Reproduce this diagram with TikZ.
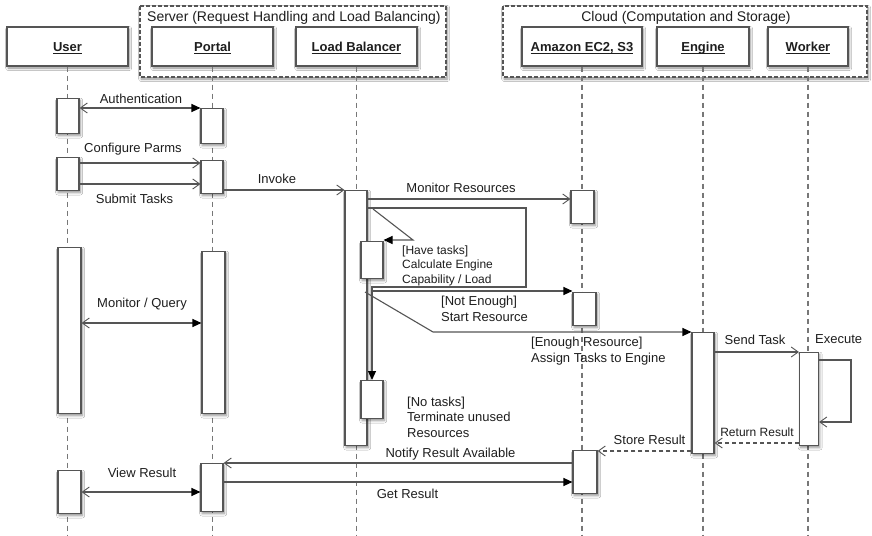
\documentclass[tikz,border=0pt]{standalone}
\usepackage{fontspec}
\setmainfont{Liberation Sans}
\usetikzlibrary{arrows.meta,shadows.blur}

\definecolor{linegray}{HTML}{555555}
\definecolor{lifegray}{HTML}{777777}
\definecolor{inkgray}{HTML}{1E1E1E}

% underlined participant name, rule at a fixed distance from the baseline
\newcommand{\lifename}[1]{\underline{\smash{#1}}}

\tikzset{
  softshadow/.style={blur shadow={shadow xshift=1.2pt, shadow yshift=-2pt,
      shadow blur steps=6, shadow blur radius=2.5pt, shadow opacity=45}},
  headbox/.style={draw=linegray, line width=1.1pt, fill=white, softshadow,
      minimum height=39, inner sep=0, text=inkgray, text height=11, text depth=0,
      font=\fontsize{13}{15}\selectfont\bfseries},
  groupbox/.style={draw=linegray, line width=1.1pt, dash pattern=on 4pt off 2pt,
      fill=white, softshadow},
  actbox/.style={draw=linegray, line width=1.1pt, fill=white, softshadow,
      minimum width=22, inner sep=0, anchor=north},
  lifeline/.style={draw=lifegray, line width=1.1pt, dash pattern=on 5pt off 4pt},
  msgline/.style={draw=linegray, line width=1.1pt},
  replyline/.style={draw=linegray, line width=1.1pt, dash pattern=on 4pt off 3pt},
  openhead/.style={-{Straight Barb[length=7pt,width=10pt,line width=0.9pt]}},
  filledhead/.style={-{Triangle[length=9pt,width=8pt,color=black]}},
  bothheads/.style={{Straight Barb[length=7pt,width=10pt,line width=0.9pt]}-{Triangle[length=9pt,width=8pt,color=black]}},
  lbl/.style={inner sep=0, text=inkgray, font=\fontsize{13}{15.5}\selectfont},
  smalllbl/.style={inner sep=0, text=inkgray, font=\fontsize{12}{14.5}\selectfont},
  grouplbl/.style={inner sep=0, text=inkgray, font=\fontsize{14}{16}\selectfont},
}

\begin{document}
\begin{tikzpicture}[x=1pt, y=-1pt]
\useasboundingbox[fill=white] (0,0) rectangle (872,535);

% ---- group frames ----
\draw[groupbox] (140,6) rectangle (446,77);
\draw[groupbox] (503,6) rectangle (867,77);
\node[grouplbl, anchor=base west] (srvtitle) at (147,22) {Server (Request Handling and Load Balancing)};
\node[grouplbl, anchor=base] (cldtitle) at (686,22) {Cloud (Computation and Storage)};

% ---- participants ----
\node[headbox, minimum width=121] (user)   at (67.5,46.5)  {\lifename{User}};
\node[headbox, minimum width=121] (portal) at (212.5,46.5) {\lifename{Portal}};
\node[headbox, minimum width=121] (lb)     at (356.5,46.5) {\lifename{Load Balancer}};
\node[headbox, minimum width=120] (ec2)    at (582,46.5)   {\lifename{Amazon EC2, S3}};
\node[headbox, minimum width=92]  (engine) at (703,46.5)   {\lifename{Engine}};
\node[headbox, minimum width=80]  (worker) at (808,46.5)   {\lifename{Worker}};

% ---- lifelines ----
\foreach \p in {user,portal,lb,ec2,engine,worker}
  \draw[lifeline] (\p.south) -- (\p.south |- 0,535);

% ---- activation bars ----
\node[actbox, minimum height=35]  (ua1) at (68,98)  {};
\node[actbox, minimum height=35]  (pa1) at (212,108) {};
\node[actbox, minimum height=33]  (ua2) at (68,157) {};
\node[actbox, minimum height=33]  (pa2) at (212,160) {};
\node[actbox, minimum height=166, minimum width=23] (ua3) at (69.5,247) {};
\node[actbox, minimum height=162, minimum width=23] (pa3) at (213.5,251) {};
\node[actbox, minimum height=43, minimum width=23]  (ua4) at (69.5,470) {};
\node[actbox, minimum height=48]  (pa4) at (212,463) {};
\node[actbox, minimum height=255] (lba) at (356,190) {};
\node[actbox, minimum height=37]  (lbi1) at (372,241) {};
\node[actbox, minimum height=38]  (lbi2) at (372,380) {};
\node[actbox, minimum height=33, minimum width=23] (ea1) at (582.5,190) {};
\node[actbox, minimum height=33, minimum width=23] (ea2) at (584.5,292) {};
\node[actbox, minimum height=43, minimum width=24] (ea3) at (585,450) {};
\node[actbox, minimum height=121] (ena) at (703,332) {};
\node[actbox, minimum height=93, minimum width=19] (wka) at (809,352) {};

% ---- corner points of the routed messages ----
\coordinate (loopR1) at (526,208);
\coordinate (loopR2) at (526,287);
\coordinate (haveA)  at (373,209);
\coordinate (haveB)  at (413,240);
\coordinate (notA)   at (372,291);
\coordinate (enA)    at (365,292);
\coordinate (enB)    at (433,332);
\coordinate (execR1) at (851,360);
\coordinate (execR2) at (851,422);

% ---- messages ----
\draw[msgline, bothheads] (ua1.east |- 0,108) -- (pa1.west |- 0,108);
\node[lbl, anchor=base] (lauth) at (141,103) {Authentication};

\draw[msgline, openhead] (ua2.east |- 0,163) -- (pa2.west |- 0,163);
\node[lbl, anchor=base] (lconf) at (133,152) {Configure Parms};

\draw[msgline, openhead] (ua2.east |- 0,184) -- (pa2.west |- 0,184);
\node[lbl, anchor=base] (lsub) at (134.5,203) {Submit Tasks};

\draw[msgline, openhead] (pa2.east |- 0,190) -- (lba.west |- 0,190);
\node[lbl, anchor=base] (linv) at (277,183) {Invoke};

\draw[msgline, openhead] (lba.east |- 0,199) -- (ea1.west |- 0,199);
\node[lbl, anchor=base] (lmon) at (461,192) {Monitor Resources};

% self-call: have tasks (base anchor sits on the last line)
\draw[msgline, filledhead] (haveA) -- (haveB) -- (lbi1.east |- haveB);
\node[smalllbl, anchor=base west, align=left] (lhave) at (402,283)
  {[Have tasks]\\Calculate Engine\\Capability / Load};

% loop back to the termination step
\draw[msgline, filledhead] (lba.east |- loopR1) -- (loopR1) -- (loopR2) -| (lbi2.north);

% not enough resources
\draw[msgline, filledhead] (notA) -- (ea2.west |- notA);
\node[lbl, anchor=base west, align=left] (lnot) at (441,321)
  {[Not Enough]\\Start Resource};

% enough resources
\draw[msgline, filledhead] (enA) -- (enB) -- (ena.west |- enB);
\node[lbl, anchor=base west, align=left] (lenough) at (531,362)
  {[Enough Resource]\\Assign Tasks to Engine};

\node[lbl, anchor=base west, align=left] (lnotask) at (407,437)
  {[No tasks]\\Terminate unused\\Resources};

\draw[msgline, openhead] (ena.east |- 0,352) -- (wka.west |- 0,352);
\node[lbl, anchor=base] (lsend) at (755,344) {Send Task};

\draw[msgline, openhead] (wka.east |- execR1) -- (execR1) -- (execR2) -- (wka.east |- execR2);
\node[lbl, anchor=base west] (lexec) at (815,343) {Execute};

\draw[replyline, openhead] (wka.west |- 0,443) -- (ena.east |- 0,443);
\node[smalllbl, anchor=base] (lret) at (757,436) {Return Result};

\draw[replyline, openhead] (ena.west |- 0,451) -- (ea3.east |- 0,451);
\node[lbl, anchor=base] (lstore) at (649.5,444) {Store Result};

\draw[msgline, openhead] (ea3.west |- 0,463) -- (pa4.east |- 0,463);
\node[lbl, anchor=base] (lnotify) at (450.5,457) {Notify Result Available};

\draw[msgline, filledhead] (pa4.east |- 0,482) -- (ea3.west |- 0,482);
\node[lbl, anchor=base] (lget) at (407.5,498) {Get Result};

\draw[msgline, bothheads] (ua4.east |- 0,492) -- (pa4.west |- 0,492);
\node[lbl, anchor=base] (lview) at (142,477) {View Result};

\draw[msgline, bothheads] (ua3.east |- 0,323) -- (pa3.west |- 0,323);
\node[lbl, anchor=base] (lquery) at (142,307) {Monitor / Query};

\end{tikzpicture}
\end{document}
